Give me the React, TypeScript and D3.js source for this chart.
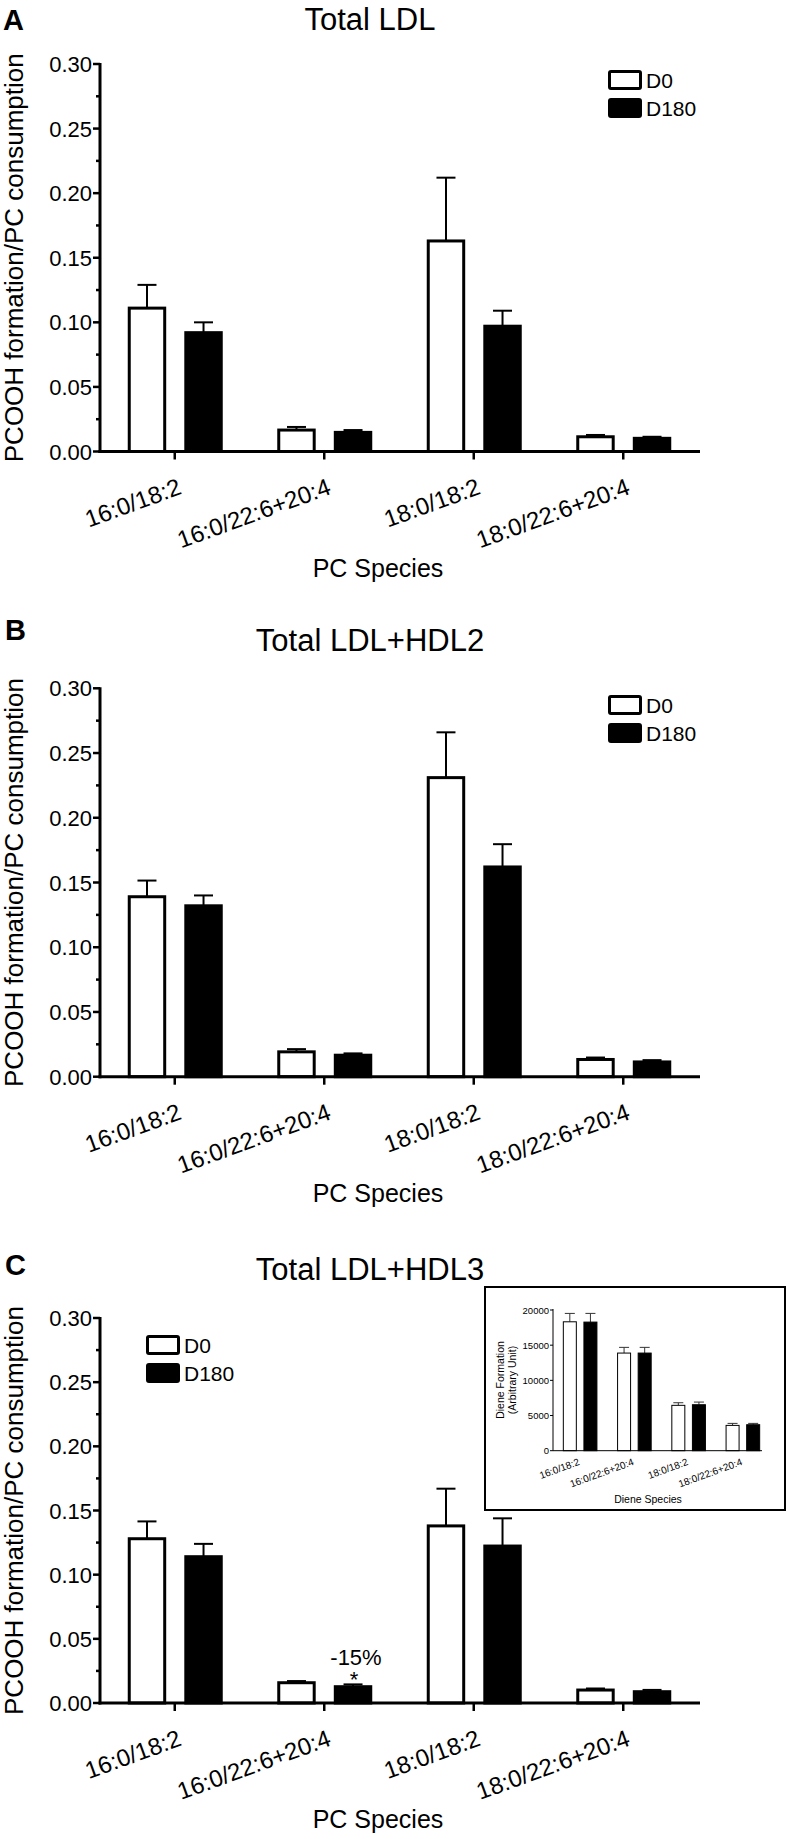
import React from "react";
import * as d3 from "d3";

const species = ["16:0/18:2", "16:0/22:6+20:4", "18:0/18:2", "18:0/22:6+20:4"];
const groups = ["D0", "D180"];
const yTicks = [0, 0.05, 0.1, 0.15, 0.2, 0.25, 0.3];
const yMinor = [0.025, 0.075, 0.125, 0.175, 0.225, 0.275];

// panel A: total LDL
const ldlD0 = [0.111, 0.0166, 0.163, 0.0114];
const ldlD0Err = [0.018, 0.0024, 0.049, 0.0014];
const ldlD180 = [0.092, 0.0148, 0.097, 0.0102];
const ldlD180Err = [0.008, 0.0018, 0.012, 0.0012];

// panel B: LDL + HDL2
const hdl2D0 = [0.139, 0.0192, 0.231, 0.0133];
const hdl2D0Err = [0.0125, 0.0021, 0.035, 0.0015];
const hdl2D180 = [0.132, 0.0166, 0.162, 0.0114];
const hdl2D180Err = [0.008, 0.0014, 0.0176, 0.0014];

// panel C: LDL + HDL3
const hdl3D0 = [0.128, 0.0158, 0.138, 0.0101];
const hdl3D0Err = [0.0135, 0.0013, 0.029, 0.0012];
const hdl3D180 = [0.114, 0.0127, 0.1223, 0.0088];
const hdl3D180Err = [0.01, 0.0018, 0.0216, 0.0014];

// inset: diene formation
const dieneTicks = [0, 5000, 10000, 15000, 20000];
const dieneD0 = [18324, 13878, 6448, 3598];
const dieneD0Err = [1190, 810, 370, 285];
const dieneD180 = [18280, 13878, 6535, 3693];
const dieneD180Err = [1237, 810, 378, 190];

const FONT = "'Liberation Sans', Arial, Helvetica, sans-serif";

function Panel({ top, bottom, d0, d0Err, d180, d180Err, title, titleY, letter, letterX, letterY, legendX, legendY, children }: any) {
  const x = d3.scaleBand().domain(species).range([100, 698]);
  const inner = d3.scaleBand().domain(groups).range([-47, 48]).paddingInner(0.32);
  const y = d3.scaleLinear().domain([0, 0.3]).range([bottom, top]);
  const series = [
    { key: "D0", vals: d0, errs: d0Err, fill: "#fff" },
    { key: "D180", vals: d180, errs: d180Err, fill: "#000" },
  ];
  const bw = inner.bandwidth();
  return (
    <g>
      <text x={letterX} y={letterY} fontSize={29} fontWeight="bold">{letter}</text>
      <text x={370} y={titleY} fontSize={31} textAnchor="middle">{title}</text>
      <text transform={`translate(23,${(top + bottom) / 2}) rotate(-90)`} fontSize={26} textAnchor="middle">
        PCOOH formation/PC consumption
      </text>
      {series.map((s) =>
        species.map((sp, i) => {
          const cx = x(sp)! + x.bandwidth() / 2 + inner(s.key)! + bw / 2;
          const yv = y(s.vals[i]);
          const ye = y(s.vals[i] + s.errs[i]);
          return (
            <g key={s.key + sp}>
              <line x1={cx} x2={cx} y1={yv} y2={ye} stroke="#000" strokeWidth={2} />
              <line x1={cx - 9.5} x2={cx + 9.5} y1={ye} y2={ye} stroke="#000" strokeWidth={2} />
              <rect x={cx - bw / 2 + 1.5} y={yv} width={bw - 3} height={bottom - yv} fill={s.fill} stroke="#000" strokeWidth={3} />
            </g>
          );
        })
      )}
      {/* y axis */}
      <line x1={100} x2={100} y1={top - 1} y2={bottom + 1.5} stroke="#000" strokeWidth={3} />
      {yTicks.map((t) => (
        <g key={t}>
          <line x1={93} x2={100} y1={y(t)} y2={y(t)} stroke="#000" strokeWidth={2.5} />
          <text x={92} y={y(t) + 8} fontSize={22} textAnchor="end">{t.toFixed(2)}</text>
        </g>
      ))}
      {yMinor.map((t) => (
        <line key={t} x1={96} x2={100} y1={y(t)} y2={y(t)} stroke="#000" strokeWidth={2.5} />
      ))}
      {/* x axis */}
      <line x1={98.5} x2={700} y1={bottom} y2={bottom} stroke="#000" strokeWidth={3} />
      {species.map((sp) => {
        const c = x(sp)! + x.bandwidth() / 2;
        return (
          <g key={sp}>
            <line x1={c} x2={c} y1={bottom} y2={bottom + 8} stroke="#000" strokeWidth={2.5} />
            <text transform={`translate(${c + 8},${bottom + 42}) rotate(-20)`} fontSize={24} textAnchor="end">{sp}</text>
          </g>
        );
      })}
      <text x={378} y={bottom + 125} fontSize={25} textAnchor="middle">PC Species</text>
      {/* legend */}
      {series.map((s, i) => (
        <g key={s.key}>
          <rect x={legendX + 1.5} y={legendY + i * 28 + 1.5} width={31} height={17} rx={1.5} fill={s.fill} stroke="#000" strokeWidth={3} />
          <text x={legendX + 38} y={legendY + i * 28 + 18} fontSize={21}>{s.key}</text>
        </g>
      ))}
      {children}
    </g>
  );
}

function Inset() {
  const left = 553;
  const base = 1450.7;
  const x = d3.scaleBand().domain(species).range([left, 770]);
  const inner = d3.scaleBand().domain(groups).range([-17.3, 17.3]).paddingInner(0.32);
  const y = d3.scaleLinear().domain([0, 20000]).range([base, 1310]);
  const bw = inner.bandwidth();
  const series = [
    { key: "D0", vals: dieneD0, errs: dieneD0Err, fill: "#fff" },
    { key: "D180", vals: dieneD180, errs: dieneD180Err, fill: "#000" },
  ];
  return (
    <g>
      <rect x={485} y={1287} width={300} height={223} fill="#fff" stroke="#000" strokeWidth={2} />
      {series.map((s) =>
        species.map((sp, i) => {
          const cx = x(sp)! + x.bandwidth() / 2 + inner(s.key)! + bw / 2;
          const yv = y(s.vals[i]);
          const ye = y(s.vals[i] + s.errs[i]);
          return (
            <g key={s.key + sp}>
              <line x1={cx} x2={cx} y1={yv} y2={ye} stroke="#333" strokeWidth={1} />
              <line x1={cx - 5} x2={cx + 5} y1={ye} y2={ye} stroke="#333" strokeWidth={1} />
              <rect x={cx - bw / 2 + 0.5} y={yv} width={bw - 1} height={base - yv} fill={s.fill} stroke="#000" strokeWidth={1} />
            </g>
          );
        })
      )}
      <line x1={left} x2={left} y1={1309} y2={base} stroke="#000" strokeWidth={1} />
      <line x1={left} x2={762} y1={base} y2={base} stroke="#000" strokeWidth={1} />
      {dieneTicks.map((t) => (
        <g key={t}>
          <line x1={left - 3} x2={left} y1={y(t)} y2={y(t)} stroke="#000" strokeWidth={1} />
          <text x={left - 4} y={y(t) + 3.5} fontSize={9.5} textAnchor="end">{t}</text>
        </g>
      ))}
      {species.map((sp) => {
        const c = x(sp)! + x.bandwidth() / 2;
        return (
          <text key={sp} transform={`translate(${c},${base + 14}) rotate(-20)`} fontSize={10} textAnchor="end">{sp}</text>
        );
      })}
      <text transform={`translate(504,1380) rotate(-90)`} fontSize={10.5} textAnchor="middle">Diene Formation</text>
      <text transform={`translate(516,1380) rotate(-90)`} fontSize={10.5} textAnchor="middle">(Arbitrary Unit)</text>
      <text x={648} y={1503} fontSize={10.5} textAnchor="middle">Diene Species</text>
    </g>
  );
}

export default function App() {
  return (
    <svg width={789} height={1839} style={{ position: "absolute", left: 0, top: 0, background: "#fff" }} fontFamily={FONT}>
      <rect width={789} height={1839} fill="#fff" />
      <Panel top={64} bottom={451.5} d0={ldlD0} d0Err={ldlD0Err} d180={ldlD180} d180Err={ldlD180Err}
        title="Total LDL" titleY={30} letter="A" letterX={3} letterY={30} legendX={608} legendY={70} />
      <Panel top={688.3} bottom={1076.7} d0={hdl2D0} d0Err={hdl2D0Err} d180={hdl2D180} d180Err={hdl2D180Err}
        title="Total LDL+HDL2" titleY={651} letter="B" letterX={5} letterY={640} legendX={608} legendY={695} />
      <Panel top={1318} bottom={1703} d0={hdl3D0} d0Err={hdl3D0Err} d180={hdl3D180} d180Err={hdl3D180Err}
        title="Total LDL+HDL3" titleY={1280} letter="C" letterX={5} letterY={1275} legendX={146} legendY={1335}>
        <text x={356} y={1665} fontSize={22} textAnchor="middle">-15%</text>
        <text x={354} y={1687} fontSize={22} textAnchor="middle">*</text>
      </Panel>
      <Inset />
    </svg>
  );
}
